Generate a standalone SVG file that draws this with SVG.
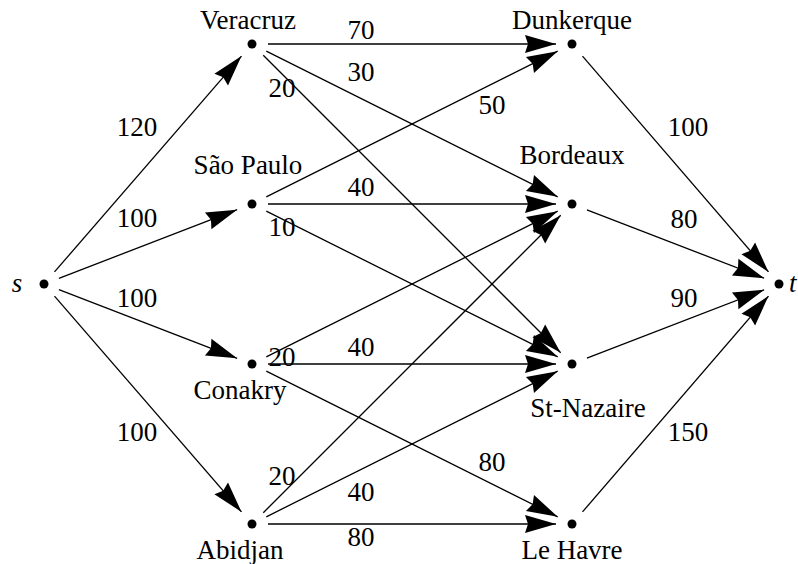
<svg xmlns="http://www.w3.org/2000/svg" width="798" height="564" viewBox="0 0 798 564">
<style>
text{font-family:"Liberation Serif","Times New Roman",Times,serif;font-size:27px;fill:#000}
.it{font-style:italic}
.e line{stroke:#000;stroke-width:1.3;marker-end:url(#arr)}
.m{text-anchor:middle}
</style>
<defs>
<marker id="arr" markerUnits="userSpaceOnUse" markerWidth="34" markerHeight="22" viewBox="-33 -11 34 22" refX="0" refY="0" orient="auto"><path d="M0,0 L-31,-9 L-28,0 L-31,9 Z" fill="#000"/></marker>
</defs>
<rect width="798" height="564" fill="#fff"/>
<g id="connectors" class="e">
<line x1="54.5" y1="271.9" x2="241.5" y2="56.1"/>
<line x1="58.9" y1="278.3" x2="237.1" y2="209.7"/>
<line x1="58.9" y1="289.7" x2="237.1" y2="358.3"/>
<line x1="54.5" y1="296.1" x2="241.5" y2="511.9"/>
<line x1="268" y1="44" x2="556" y2="44"/>
<line x1="266.3" y1="51.2" x2="557.7" y2="196.8"/>
<line x1="263.3" y1="55.3" x2="560.7" y2="352.7"/>
<line x1="266.3" y1="196.8" x2="557.7" y2="51.2"/>
<line x1="268" y1="204" x2="556" y2="204"/>
<line x1="266.3" y1="211.2" x2="557.7" y2="356.8"/>
<line x1="266.3" y1="356.8" x2="557.7" y2="211.2"/>
<line x1="268" y1="364" x2="556" y2="364"/>
<line x1="266.3" y1="371.2" x2="557.7" y2="516.8"/>
<line x1="263.3" y1="512.7" x2="560.7" y2="215.3"/>
<line x1="266.3" y1="516.8" x2="557.7" y2="371.2"/>
<line x1="268" y1="524" x2="556" y2="524"/>
<line x1="582.5" y1="56.1" x2="768.5" y2="271.9"/>
<line x1="586.9" y1="209.8" x2="764.1" y2="278.2"/>
<line x1="586.9" y1="358.2" x2="764.1" y2="289.8"/>
<line x1="582.5" y1="511.9" x2="768.5" y2="296.1"/>
</g>
<g id="edge-labels" class="m">
<text x="137" y="136">120</text>
<text x="137" y="227">100</text>
<text x="137" y="307">100</text>
<text x="137" y="441">100</text>
<text x="361" y="39">70</text>
<text x="361" y="81">30</text>
<text x="282" y="97">20</text>
<text x="492" y="114">50</text>
<text x="361" y="196">40</text>
<text x="282" y="236">10</text>
<text x="282" y="366">20</text>
<text x="361" y="356">40</text>
<text x="492" y="471">80</text>
<text x="282" y="485">20</text>
<text x="361" y="501">40</text>
<text x="361" y="546">80</text>
<text x="688" y="136">100</text>
<text x="684" y="228">80</text>
<text x="684" y="307">90</text>
<text x="688" y="441">150</text>
</g>
<g id="s"><circle cx="44" cy="284" r="4.5"/><text class="it m" x="17" y="292">s</text></g>
<g id="veracruz"><circle cx="252" cy="44" r="4.5"/><text class="m" x="248" y="29">Veracruz</text></g>
<g id="saopaulo"><circle cx="252" cy="204" r="4.5"/><text class="m" x="248" y="174">São Paulo</text></g>
<g id="conakry"><circle cx="252" cy="364" r="4.5"/><text class="m" x="240" y="399">Conakry</text></g>
<g id="abidjan"><circle cx="252" cy="524" r="4.5"/><text class="m" x="240" y="559">Abidjan</text></g>
<g id="dunkerque"><circle cx="572" cy="44" r="4.5"/><text class="m" x="572" y="29">Dunkerque</text></g>
<g id="bordeaux"><circle cx="572" cy="204" r="4.5"/><text class="m" x="572" y="164">Bordeaux</text></g>
<g id="stnazaire"><circle cx="572" cy="364" r="4.5"/><text class="m" x="588" y="417">St-Nazaire</text></g>
<g id="lehavre"><circle cx="572" cy="524" r="4.5"/><text class="m" x="572" y="559">Le Havre</text></g>
<g id="t"><circle cx="779" cy="284" r="4.5"/><text class="it" x="789" y="292">t</text></g>
</svg>
